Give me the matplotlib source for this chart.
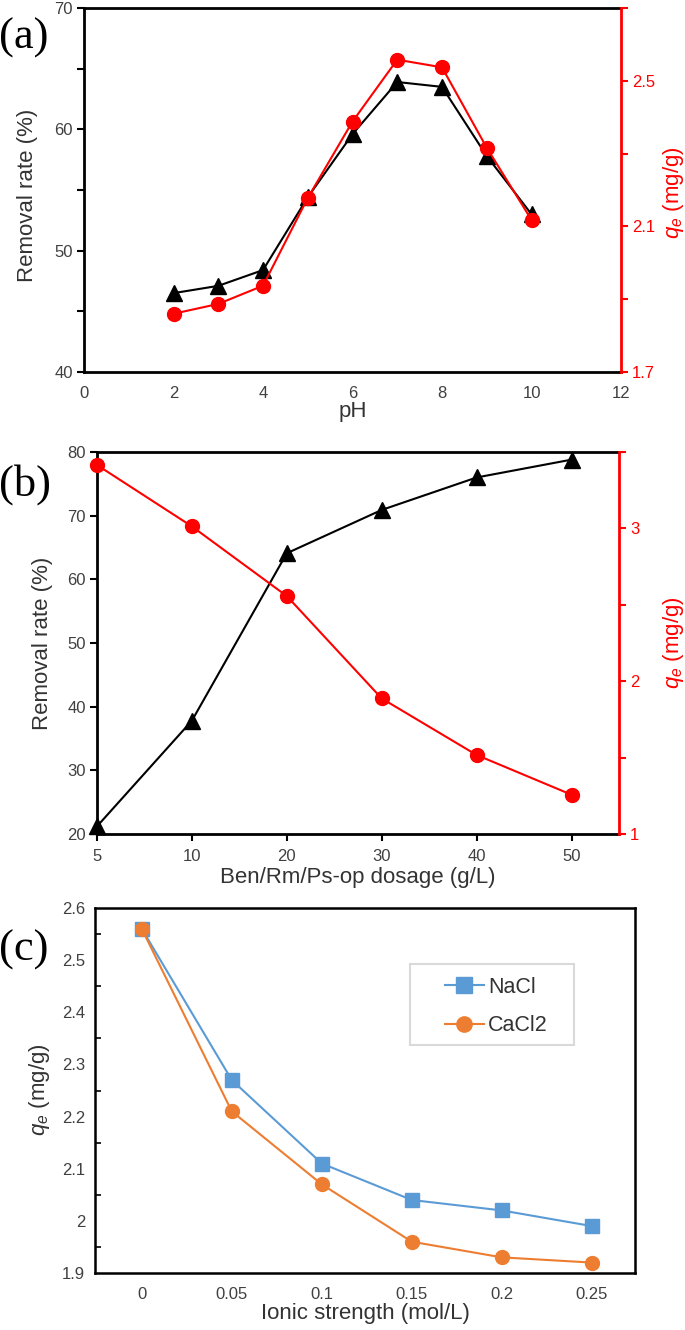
import matplotlib
matplotlib.use("Agg")
import matplotlib.pyplot as plt
from matplotlib.ticker import FixedLocator, FuncFormatter
from matplotlib.patches import Rectangle
import numpy as np

plt.rcParams['font.family'] = ['Liberation Sans', 'DejaVu Sans']
plt.rcParams['mathtext.fontset'] = 'custom'
plt.rcParams['mathtext.it'] = 'Liberation Sans:italic'
plt.rcParams['mathtext.rm'] = 'Liberation Sans'

# ---------- data ----------
ph = [2, 3, 4, 5, 6, 7, 8, 9, 10]
ph_removal = [46.5, 47.1, 48.4, 54.4, 59.6, 63.9, 63.5, 57.8, 53.0]
ph_qe = [1.86, 1.887, 1.937, 2.178, 2.388, 2.558, 2.537, 2.316, 2.118]

dosage_labels = ['5', '10', '20', '30', '40', '50']
dosage_removal = [21.2, 37.8, 64.1, 70.9, 76.0, 78.8]
dosage_qe = [3.415, 3.013, 2.557, 1.887, 1.517, 1.257]

ionic_labels = ['0', '0.05', '0.1', '0.15', '0.2', '0.25']
nacl_qe = [2.56, 2.27, 2.11, 2.04, 2.02, 1.99]
cacl2_qe = [2.56, 2.21, 2.07, 1.96, 1.93, 1.92]

W, H = 685, 1330
fig = plt.figure(figsize=(W / 100, H / 100), dpi=100)

TICK_FS = 12
LABEL_FS = 16
GRAY = '#404040'
LGRAY = '#333333'
RED = '#ff0000'


def rect(l, t, r, b):
    return [l / W, 1 - b / H, (r - l) / W, (b - t) / H]


def ftext(x, y, s, **kw):
    return fig.text(x / W, 1 - y / H, s, **kw)


# ---------- panel (a) ----------
axa = fig.add_axes(rect(84, 8, 621, 372))
axa.plot(ph, ph_removal, color='black', lw=1.5, marker='^', ms=12, zorder=3)
axa.set_xlim(0, 12)
axa.set_ylim(40, 70)
axa.set_xticks(np.arange(0, 13, 2))
axa.set_yticks([40, 50, 60, 70])
axa.set_yticks([45, 55, 65], minor=True)
axa.tick_params(axis='x', length=0, pad=10, labelcolor=GRAY, labelsize=TICK_FS)
axa.tick_params(axis='y', which='both', length=5, width=1.5, direction='out', pad=3,
                labelcolor=GRAY, labelsize=TICK_FS)
for s in ['left', 'bottom', 'top']:
    axa.spines[s].set_linewidth(2)
axa.spines['right'].set_visible(False)
axa.set_xlabel('pH', fontsize=LABEL_FS, color=LGRAY, labelpad=0)
ftext(28, 195, 'Removal rate (%)', fontsize=LABEL_FS, color=LGRAY, rotation=90,
      ha='center', va='center')

axa2 = axa.twinx()
axa2.plot(ph, ph_qe, color=RED, lw=1.5, marker='o', ms=10, zorder=3)
axa2.set_ylim(1.7, 2.7)
axa2.yaxis.set_major_locator(FixedLocator([1.7, 1.9, 2.1, 2.3, 2.5, 2.7]))
axa2.yaxis.set_major_formatter(FuncFormatter(
    lambda v, p: f'{v:.1f}' if round(v, 1) in (1.7, 2.1, 2.5) else ''))
axa2.tick_params(axis='y', colors=RED, length=5, width=1.5, direction='out', pad=3,
                 labelsize=TICK_FS)
axa2.spines['right'].set_color(RED)
axa2.spines['right'].set_linewidth(2)
for s in ['left', 'bottom', 'top']:
    axa2.spines[s].set_visible(False)
ftext(673, 193, r'$q_e$ (mg/g)', fontsize=LABEL_FS, color=RED, rotation=90,
      ha='center', va='center')
ftext(-1, 38, '(a)', fontsize=32, family='Liberation Serif', va='center', ha='left')

# ---------- panel (b) ----------
axb = fig.add_axes(rect(97, 452, 619, 834))
xb = np.arange(len(dosage_labels))
axb.plot(xb, dosage_removal, color='black', lw=1.5, marker='^', ms=12, zorder=3,
         clip_on=False)
axb.set_xlim(0, 5.5)
axb.set_ylim(20, 80)
axb.set_xticks(xb)
axb.set_xticklabels(dosage_labels)
axb.set_yticks(np.arange(20, 81, 10))
axb.tick_params(axis='x', length=5, width=1.5, direction='out', pad=6,
                labelcolor=GRAY, labelsize=TICK_FS)
axb.tick_params(axis='y', length=5, width=1.5, direction='out', pad=3,
                labelcolor=GRAY, labelsize=TICK_FS)
for s in ['left', 'bottom', 'top']:
    axb.spines[s].set_linewidth(2)
axb.spines['right'].set_visible(False)
axb.set_xlabel('Ben/Rm/Ps-op dosage (g/L)', fontsize=LABEL_FS, color=LGRAY, labelpad=2)
ftext(43, 643, 'Removal rate (%)', fontsize=LABEL_FS, color=LGRAY, rotation=90,
      ha='center', va='center')

axb2 = axb.twinx()
axb2.plot(xb, dosage_qe, color=RED, lw=1.5, marker='o', ms=10, zorder=3, clip_on=False)
axb2.set_ylim(1, 3.5)
axb2.yaxis.set_major_locator(FixedLocator([1, 1.5, 2, 2.5, 3, 3.5]))
axb2.yaxis.set_major_formatter(FuncFormatter(
    lambda v, p: f'{int(round(v))}' if abs(v - round(v)) < 1e-6 else ''))
axb2.tick_params(axis='y', colors=RED, length=5, width=1.5, direction='out', pad=3,
                 labelsize=TICK_FS)
axb2.spines['right'].set_color(RED)
axb2.spines['right'].set_linewidth(2)
for s in ['left', 'bottom', 'top']:
    axb2.spines[s].set_visible(False)
ftext(673, 643, r'$q_e$ (mg/g)', fontsize=LABEL_FS, color=RED, rotation=90,
      ha='center', va='center')
ftext(-1, 485, '(b)', fontsize=32, family='Liberation Serif', va='center', ha='left')

# ---------- panel (c) ----------
axc = fig.add_axes(rect(95, 908, 635, 1273))
xc = np.arange(len(ionic_labels))
axc.plot(xc, nacl_qe, color='#5B9BD5', lw=1.5, marker='s', ms=10, label='NaCl', zorder=3)
axc.plot(xc, cacl2_qe, color='#ED7D31', lw=1.5, marker='o', ms=10, label='CaCl2', zorder=3)
axc.set_xlim(-0.52, 5.48)
axc.set_ylim(1.9, 2.6)
axc.set_xticks(xc)
axc.set_xticklabels(ionic_labels)
axc.set_yticks(np.arange(1.9, 2.61, 0.1))
axc.yaxis.set_major_formatter(FuncFormatter(
    lambda v, p: '2' if abs(v - 2) < 1e-6 else f'{v:.1f}'))
axc.set_yticks(np.arange(1.95, 2.6, 0.1), minor=True)
axc.tick_params(axis='x', length=0, pad=10, labelcolor=GRAY, labelsize=TICK_FS)
axc.tick_params(axis='y', which='major', length=0, pad=7, labelcolor=GRAY,
                labelsize=TICK_FS)
axc.tick_params(axis='y', which='minor', length=4, width=1.2, direction='in')
for s in axc.spines.values():
    s.set_linewidth(1.8)
axc.set_xlabel('Ionic strength (mol/L)', fontsize=LABEL_FS, color=LGRAY, labelpad=1)
ftext(39, 1090, r'$q_e$ (mg/g)', fontsize=LABEL_FS, color=LGRAY, rotation=90,
      ha='center', va='center')

# legend frame drawn as a patch, entries as a frameless legend
fig.patches.append(Rectangle((410 / W, 1 - 1045 / H), (574 - 410) / W, (1045 - 964) / H,
                             transform=fig.transFigure, facecolor='white',
                             edgecolor='#d9d9d9', lw=1.5, zorder=5))
leg = fig.legend(handles=axc.get_lines(), labels=['NaCl', 'CaCl2'],
                 loc='upper left', bbox_to_anchor=(445 / W, 1 - 977 / H),
                 fontsize=15.5, frameon=False, handlelength=1.8, borderpad=0,
                 labelspacing=0.8, handletextpad=0.2, borderaxespad=0, markerscale=1.1)
leg.set_zorder(6)
for t in leg.get_texts():
    t.set_color(LGRAY)
ftext(-1, 950, '(c)', fontsize=32, family='Liberation Serif', va='center', ha='left')

fig.savefig('out.png', dpi=100)
